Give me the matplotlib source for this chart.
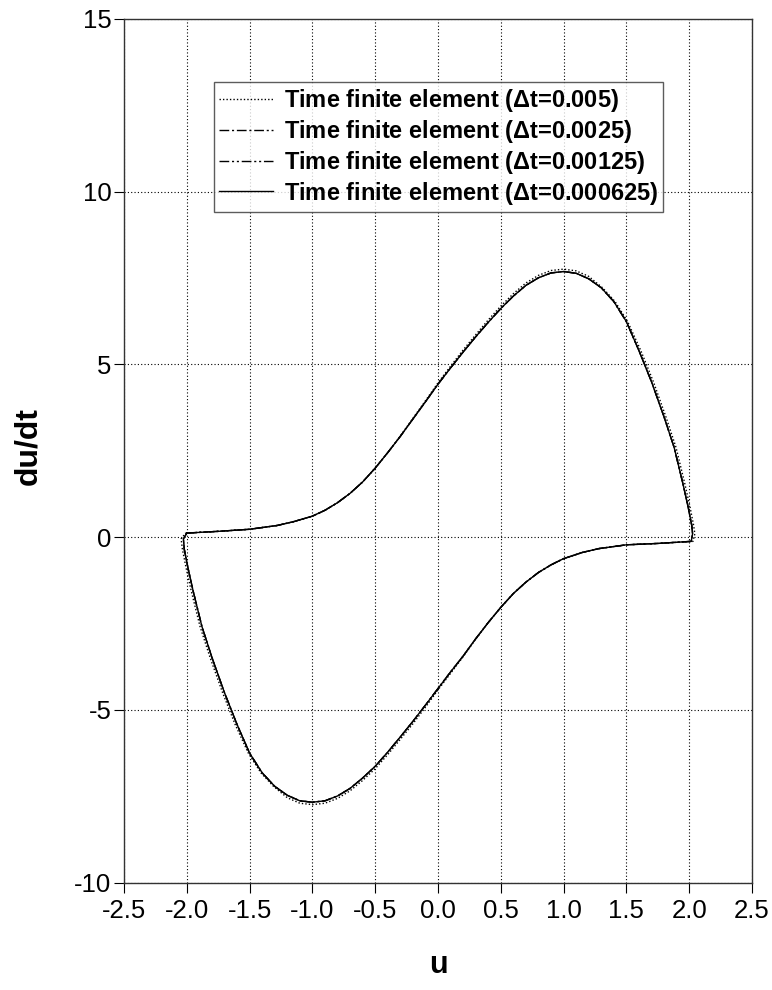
import matplotlib
matplotlib.use('Agg')
import matplotlib.pyplot as plt

# ----------------- Data -----------------
# limit cycle, upper branch (left corner -> right corner)
u_upper = [-2.00, -1.75, -1.50, -1.28, -1.15, -1.00, -0.90, -0.80, -0.70, -0.60,
           -0.50, -0.40, -0.30, -0.20, -0.10, 0.00, 0.10, 0.20, 0.30, 0.40,
           0.50, 0.60, 0.70, 0.80, 0.90, 1.00, 1.10, 1.20, 1.30, 1.40,
           1.50, 1.60, 1.70, 1.80, 1.88, 1.95, 1.99, 2.02, 2.027, 2.016]
v_upper = [0.12, 0.17, 0.23, 0.34, 0.45, 0.61, 0.78, 1.00, 1.27, 1.60,
           2.00, 2.45, 2.92, 3.42, 3.92, 4.43, 4.90, 5.36, 5.80, 6.22,
           6.62, 6.98, 7.29, 7.51, 7.65, 7.69, 7.64, 7.48, 7.22, 6.82,
           6.24, 5.40, 4.50, 3.48, 2.60, 1.55, 0.90, 0.35, 0.10, -0.12]

# lower branch (right corner -> left corner)
u_lower = [2.016, 1.75, 1.50, 1.28, 1.15, 1.00, 0.90, 0.80, 0.70, 0.60,
           0.50, 0.40, 0.30, 0.20, 0.10, 0.00, -0.10, -0.20, -0.30, -0.40,
           -0.50, -0.60, -0.70, -0.80, -0.90, -1.00, -1.10, -1.20, -1.30, -1.40,
           -1.50, -1.60, -1.70, -1.80, -1.88, -1.95, -1.99, -2.02, -2.027, -2.00]
v_lower = [-0.12, -0.18, -0.22, -0.33, -0.44, -0.62, -0.80, -1.02, -1.30, -1.63,
           -2.03, -2.47, -2.94, -3.44, -3.90, -4.38, -4.86, -5.33, -5.78, -6.22,
           -6.63, -6.97, -7.27, -7.49, -7.63, -7.67, -7.63, -7.47, -7.21, -6.82,
           -6.25, -5.42, -4.50, -3.48, -2.58, -1.55, -0.90, -0.35, -0.05, 0.12]

# coarsest step (dt=0.005) sits slightly outside the others
u_coarse_up = [-2.01, -1.75, -1.50, -1.28, -1.15, -1.00, -0.90, -0.80, -0.70, -0.60,
               -0.50, -0.40, -0.30, -0.20, -0.10, 0.00, 0.10, 0.20, 0.30, 0.40,
               0.50, 0.60, 0.70, 0.80, 0.90, 1.00, 1.10, 1.20, 1.31, 1.41,
               1.51, 1.615, 1.715, 1.815, 1.895, 1.965, 2.005, 2.035, 2.045, 2.03]
v_coarse_up = [0.12, 0.17, 0.23, 0.34, 0.45, 0.61, 0.78, 1.00, 1.27, 1.60,
               2.00, 2.45, 2.93, 3.44, 3.95, 4.47, 4.95, 5.42, 5.86, 6.29,
               6.69, 7.05, 7.36, 7.58, 7.72, 7.76, 7.71, 7.55, 7.22, 6.82,
               6.24, 5.40, 4.50, 3.48, 2.60, 1.55, 0.90, 0.35, 0.10, -0.12]
u_coarse_lo = [2.03, 1.75, 1.50, 1.28, 1.15, 1.00, 0.90, 0.80, 0.70, 0.60,
               0.50, 0.40, 0.30, 0.20, 0.10, 0.00, -0.10, -0.20, -0.30, -0.40,
               -0.50, -0.60, -0.70, -0.80, -0.90, -1.00, -1.10, -1.20, -1.31, -1.41,
               -1.51, -1.615, -1.715, -1.815, -1.895, -1.965, -2.005, -2.035, -2.045, -2.01]
v_coarse_lo = [-0.12, -0.18, -0.22, -0.33, -0.44, -0.62, -0.80, -1.02, -1.30, -1.63,
               -2.03, -2.47, -2.95, -3.46, -3.94, -4.42, -4.92, -5.40, -5.85, -6.29,
               -6.70, -7.04, -7.34, -7.56, -7.70, -7.74, -7.70, -7.54, -7.21, -6.82,
               -6.25, -5.42, -4.50, -3.48, -2.58, -1.55, -0.90, -0.35, -0.05, 0.12]

labels = ["Time finite element ($\\Delta$t=0.005)",
          "Time finite element ($\\Delta$t=0.0025)",
          "Time finite element ($\\Delta$t=0.00125)",
          "Time finite element ($\\Delta$t=0.000625)"]

x_ticks = [-2.5, -2.0, -1.5, -1.0, -0.5, 0.0, 0.5, 1.0, 1.5, 2.0, 2.5]
y_ticks = [-10, -5, 0, 5, 10, 15]


def main():
    plt.rcParams['font.family'] = ['Liberation Sans', 'DejaVu Sans']
    plt.rcParams['mathtext.fontset'] = 'custom'
    plt.rcParams['mathtext.rm'] = 'Liberation Sans:bold'
    plt.rcParams['mathtext.it'] = 'Liberation Sans:bold'

    fig = plt.figure(figsize=(7.72, 9.90), dpi=100)
    ax = fig.add_axes([124 / 772, 1 - 882.7 / 990, (752 - 124) / 772, (882.7 - 19) / 990])

    u_fine = u_upper + u_lower
    v_fine = v_upper + v_lower
    u_coarse = u_coarse_up + u_coarse_lo
    v_coarse = v_coarse_up + v_coarse_lo

    styles = [(0, (1, 1.5)), (0, (7, 2, 1.5, 2)), (0, (7, 2, 1.5, 2, 1.5, 2)), '-']
    series = [(u_coarse, v_coarse), (u_fine, v_fine), (u_fine, v_fine), (u_fine, v_fine)]
    for (uu, vv), ls, lab in zip(series, styles, labels):
        ax.plot(uu, vv, color='black', lw=1.0, ls=ls, label=lab)

    ax.set_xlim(-2.5, 2.5)
    ax.set_ylim(-10, 15)
    ax.set_xticks(x_ticks)
    ax.set_xticklabels([f"{t:.1f}" for t in x_ticks])
    ax.set_yticks(y_ticks)
    ax.set_yticklabels([str(t) for t in y_ticks])
    ax.tick_params(direction='out', length=7, width=0.8, labelsize=18.5)
    ax.tick_params(axis='x', pad=5)
    ax.tick_params(axis='y', pad=2)
    ax.grid(True, color='black', ls=(0, (1, 2)), lw=0.8)

    for s in ax.spines.values():
        s.set_linewidth(1.0)
        s.set_color('#333333')

    ax.set_xlabel('u', fontsize=22, fontweight='bold')
    ax.set_ylabel('du/dt', fontsize=23, fontweight='bold')
    ax.xaxis.set_label_coords(0.5, -0.095)
    ax.yaxis.set_label_coords(-0.152, 0.505)
    ax.xaxis.label.set_va('center')
    ax.yaxis.label.set_va('center')

    leg = ax.legend(loc='upper left', bbox_to_anchor=(0.143, 0.927),
                    prop={'weight': 'bold', 'size': 17}, frameon=True, fancybox=False,
                    edgecolor='#333333', handlelength=2.3, labelspacing=0.16,
                    borderpad=0.22, handletextpad=0.45, borderaxespad=0)
    leg.get_frame().set_linewidth(1.0)

    fig.savefig('out.png', dpi=100)
    plt.close(fig)


if __name__ == "__main__":
    main()
